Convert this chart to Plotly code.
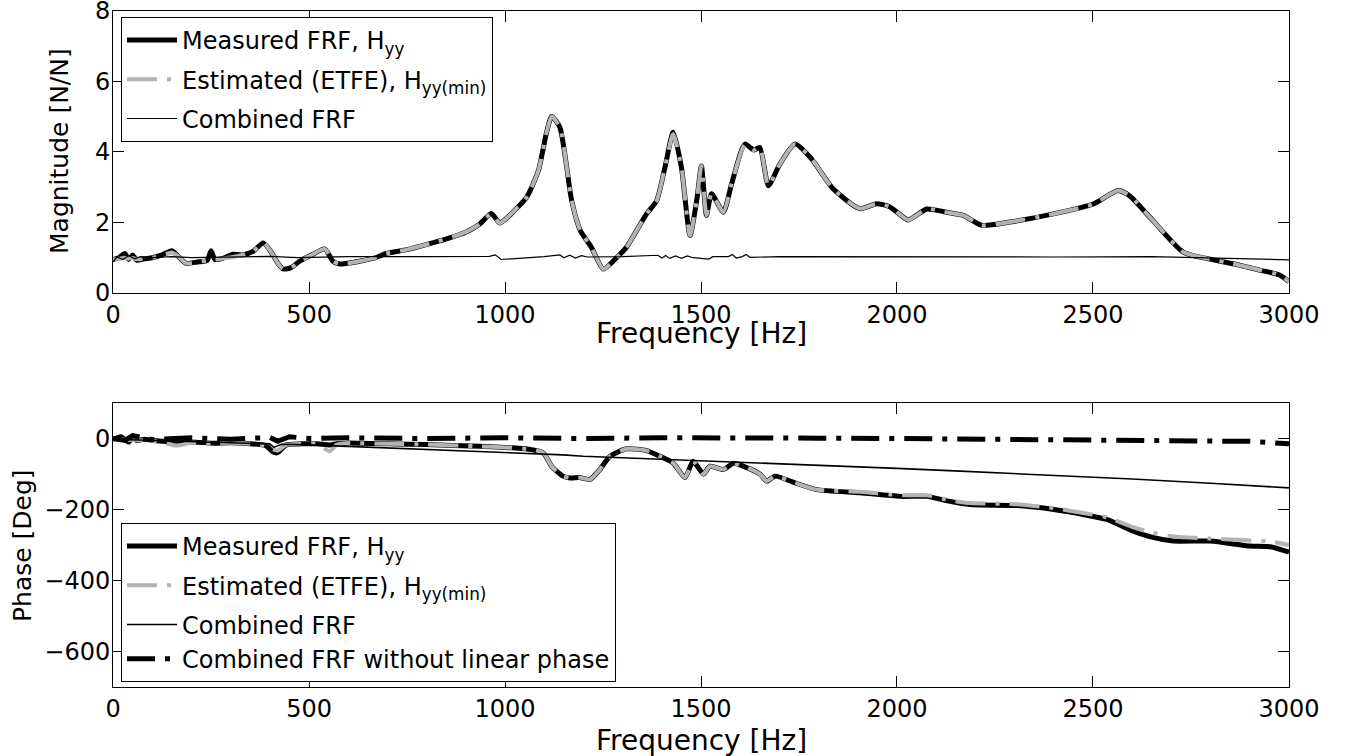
"""Measured vs estimated FRF: magnitude and phase."""
import plotly.graph_objects as go
from plotly.subplots import make_subplots

# ---- magnitude data ----
freq_mag = [0, 15, 30, 40, 50, 60, 80, 100, 125, 150, 165, 187, 215, 240, 250, 260,
            280, 306, 330, 357, 383, 404, 420, 434, 455, 476, 510, 540, 561, 578,
            610, 638, 670, 697, 750, 808, 855, 901, 935, 965, 986, 1000, 1020, 1055,
            1085, 1105, 1119, 1140, 1170, 1192, 1220, 1251, 1280, 1310, 1361, 1387,
            1408, 1429, 1450, 1472, 1489, 1501, 1514, 1527, 1557, 1578, 1612, 1634,
            1650, 1672, 1701, 1740, 1782, 1837, 1905, 1948, 1980, 2008, 2029, 2076,
            2120, 2169, 2216, 2288, 2399, 2501, 2564, 2594, 2653, 2730, 2789, 2857,
            2925, 2976, 3000]
mag_measured = [0.95, 1.0, 1.12, 0.95, 1.08, 0.93, 0.97, 1.0, 1.08, 1.2, 1.05, 0.84,
                0.88, 0.92, 1.2, 0.95, 0.98, 1.1, 1.08, 1.18, 1.42, 1.15, 0.85, 0.68,
                0.72, 0.9, 1.1, 1.25, 0.9, 0.82, 0.86, 0.92, 1.0, 1.12, 1.23, 1.4,
                1.55, 1.73, 1.95, 2.25, 1.98, 2.08, 2.29, 2.71, 3.46, 4.5, 5.0, 4.69,
                2.62, 1.77, 1.3, 0.68, 0.95, 1.3, 2.24, 2.62, 3.56, 4.55, 3.56, 1.63,
                2.62, 3.6, 2.2, 2.81, 2.29, 3.09, 4.22, 4.05, 4.12, 3.04, 3.65, 4.22,
                3.8, 2.95, 2.39, 2.53, 2.45, 2.22, 2.07, 2.38, 2.3, 2.2, 1.92, 2.01,
                2.24, 2.52, 2.9, 2.75, 2.05, 1.16, 0.98, 0.83, 0.65, 0.51, 0.32]
mag_estimated = [0.95, 0.97, 1.0, 0.97, 0.99, 0.96, 0.97, 1.0, 1.06, 1.15, 1.05, 0.84,
                 0.88, 0.92, 0.94, 0.95, 0.98, 1.02, 1.08, 1.18, 1.42, 1.15, 0.85, 0.68,
                 0.72, 0.9, 1.1, 1.25, 0.9, 0.82, 0.86, 0.92, 1.0, 1.12, 1.23, 1.4,
                 1.55, 1.73, 1.95, 2.25, 1.98, 2.08, 2.29, 2.71, 3.46, 4.5, 5.0, 4.69,
                 2.62, 1.77, 1.3, 0.68, 0.95, 1.3, 2.24, 2.62, 3.56, 4.5, 3.56, 1.63,
                 2.62, 3.6, 2.2, 2.81, 2.29, 3.09, 4.2, 4.05, 4.12, 3.04, 3.65, 4.22,
                 3.8, 2.95, 2.39, 2.53, 2.45, 2.22, 2.07, 2.38, 2.3, 2.2, 1.92, 2.01,
                 2.24, 2.52, 2.9, 2.75, 2.05, 1.16, 0.98, 0.83, 0.65, 0.51, 0.32]

freq_comb_mag = [0, 10, 25, 40, 55, 70, 100, 150, 200, 300, 400, 470, 600, 800, 960,
                 975, 990, 1100, 1140, 1150, 1165, 1180, 1195, 1210, 1300, 1390, 1400,
                 1410, 1420, 1435, 1450, 1465, 1480, 1520, 1530, 1570, 1580, 1590, 1605,
                 1615, 1625, 1700, 2000, 2400, 2650, 2800, 2900, 3000]
mag_combined = [0.88, 1.02, 0.95, 1.06, 0.97, 1.03, 1.0, 1.03, 1.0, 1.03, 1.04, 1.0,
                1.03, 1.03, 1.04, 1.08, 0.95, 1.03, 1.08, 1.0, 1.07, 0.99, 1.06, 1.02,
                1.03, 1.07, 0.99, 1.06, 0.98, 1.05, 0.98, 1.05, 1.0, 0.96, 1.03, 1.03,
                1.09, 0.99, 1.03, 1.09, 1.01, 1.03, 1.02, 1.02, 1.03, 1.0, 0.98, 0.94]

# ---- phase data ----
freq_ph = [0, 20, 40, 50, 60, 80, 100, 130, 162, 200, 255, 300, 350, 390, 408, 420,
           442, 480, 520, 553, 570, 595, 700, 800, 935, 1000, 1060, 1097, 1120, 1148,
           1166, 1190, 1217, 1240, 1268, 1310, 1361, 1395, 1429, 1459, 1480, 1506,
           1523, 1557, 1583, 1617, 1650, 1668, 1689, 1740, 1795, 1906, 2008, 2076,
           2135, 2186, 2305, 2400, 2475, 2535, 2603, 2650, 2705, 2799, 2901, 2952, 3000]
phase_measured = [-3, 5, -10, 8, -5, -2, -5, -8, -12, -10, -13, -12, -15, -20, -38,
                  -40, -18, -15, -15, -18, -15, -13, -15, -17, -22, -25, -30, -40,
                  -80, -106, -111, -110, -115, -90, -50, -29, -34, -50, -69, -110,
                  -64, -100, -78, -87, -70, -82, -100, -120, -106, -125, -144, -153,
                  -163, -163, -177, -186, -189, -200, -214, -228, -261, -278, -289,
                  -289, -303, -305, -320]
phase_estimated = [-3, -2, -4, -3, -4, -5, -6, -12, -20, -12, -13, -12, -15, -20, -30,
                   -34, -18, -15, -15, -36, -18, -13, -15, -17, -22, -25, -30, -40,
                   -80, -106, -111, -110, -115, -90, -50, -29, -34, -50, -69, -110,
                   -64, -100, -78, -87, -70, -82, -100, -120, -106, -125, -144, -150,
                   -160, -160, -174, -182, -185, -196, -210, -222, -250, -265, -276,
                   -282, -287, -290, -300]

freq_comb_ph = [0, 100, 200, 300, 400, 410, 430, 500, 600, 700, 800, 935, 1000, 1148,
                1200, 1300, 1400, 1500, 1650, 1800, 2000, 2161, 2400, 2600, 2800, 3000]
phase_combined = [-2, -5, -8, -11, -15, -25, -16, -18, -22, -26, -30, -36, -40, -46,
                  -50, -54, -58, -63, -69, -76, -84, -92, -103, -114, -126, -139]

freq_nolin = [0, 30, 50, 100, 200, 300, 400, 420, 450, 500, 600, 800, 1000, 1200,
              1400, 1600, 1800, 2000, 2200, 2400, 2600, 2800, 2900, 3000]
phase_nolin = [0, -5, 8, -3, 2, -2, 3, -8, 5, 0, 2, 0, 2, 0, 2, 0, 1, 0, -2, -2, -4,
               -6, -8, -15]

x_ticks = [0, 500, 1000, 1500, 2000, 2500, 3000]

FONT = "DejaVu Sans, Liberation Sans, Arial, sans-serif"
GRAY = "#b3b3b3"
DASHDOT = "30px,10px,4px,10px"

fig = make_subplots(rows=2, cols=1)

smooth = dict(shape="spline", smoothing=0.6)


def add(x, y, name, line, row, legend, group):
    fig.add_trace(go.Scatter(x=x, y=y, mode="lines", name=name, line=line,
                             legend=legend, legendgroup=group), row=row, col=1)


# magnitude
add(freq_mag, mag_measured, "Measured FRF, H<sub>yy</sub>",
    dict(color="black", width=5, **smooth), 1, "legend", "m1")
add(freq_mag, mag_estimated, "Estimated (ETFE), H<sub>yy(min)</sub>",
    dict(color=GRAY, width=4, dash=DASHDOT, **smooth), 1, "legend", "m2")
add(freq_comb_mag, mag_combined, "Combined FRF",
    dict(color="black", width=1.2), 1, "legend", "m3")

# phase
add(freq_ph, phase_measured, "Measured FRF, H<sub>yy</sub>",
    dict(color="black", width=5, **smooth), 2, "legend2", "p1")
add(freq_ph, phase_estimated, "Estimated (ETFE), H<sub>yy(min)</sub>",
    dict(color=GRAY, width=4, dash=DASHDOT, **smooth), 2, "legend2", "p2")
add(freq_comb_ph, phase_combined, "Combined FRF",
    dict(color="black", width=1.6), 2, "legend2", "p3")
add(freq_nolin, phase_nolin, "Combined FRF without linear phase",
    dict(color="black", width=5, dash="28px,10px,5px,10px"), 2, "legend2", "p3")

axis_style = dict(showline=True, linecolor="black", linewidth=1, mirror="ticks",
                  ticks="inside", ticklen=11, tickcolor="black", showgrid=False,
                  zeroline=False, automargin=False, ticklabeloverflow="allow",
                  tickfont=dict(family=FONT, size=24, color="black"))

fig.update_xaxes(range=[0, 3000], tickvals=x_ticks, **axis_style)
fig.update_xaxes(domain=[0.0838, 0.9555], row=1, col=1)
fig.update_xaxes(domain=[0.0838, 0.9555], row=2, col=1)
fig.update_yaxes(domain=[0.6124, 0.9861], range=[0, 8], tickvals=[0, 2, 4, 6, 8],
                 ticklabelstandoff=-3, row=1, col=1, **axis_style)
fig.update_yaxes(domain=[0.0913, 0.4669], range=[-700, 100],
                 tickvals=[-600, -400, -200, 0], ticklabelstandoff=-3,
                 row=2, col=1, **axis_style)

# axis titles
titles = [
    dict(text="Frequency [Hz]", x=0.5197, y=0.5590, textangle=0, size=28),
    dict(text="Frequency [Hz]", x=0.5197, y=0.0200, textangle=0, size=28),
    dict(text="Magnitude [N/N]", x=0.0445, y=0.8003, textangle=-90, size=25),
    dict(text="Phase [Deg]", x=0.0163, y=0.2791, textangle=-90, size=25),
]
for t in titles:
    fig.add_annotation(text=t["text"], x=t["x"], y=t["y"], xref="paper", yref="paper",
                       xanchor="center", yanchor="middle", showarrow=False,
                       textangle=t["textangle"],
                       font=dict(family=FONT, size=t["size"], color="black"))

legend_style = dict(xanchor="left", yanchor="top", bgcolor="white",
                    bordercolor="black", borderwidth=1, itemwidth=50,
                    font=dict(family=FONT, size=24, color="black"),
                    tracegroupgap=5)
fig.update_layout(
    width=1349, height=756,
    paper_bgcolor="white", plot_bgcolor="white",
    margin=dict(l=0, r=0, t=0, b=0),
    showlegend=True,
    legend=dict(x=0.0897, y=0.9775, **legend_style),
    legend2=dict(x=0.0897, y=0.3082, **legend_style),
)

fig.write_html("out.html", config={"displayModeBar": False},
               post_script="document.body.style.margin='0px';")
